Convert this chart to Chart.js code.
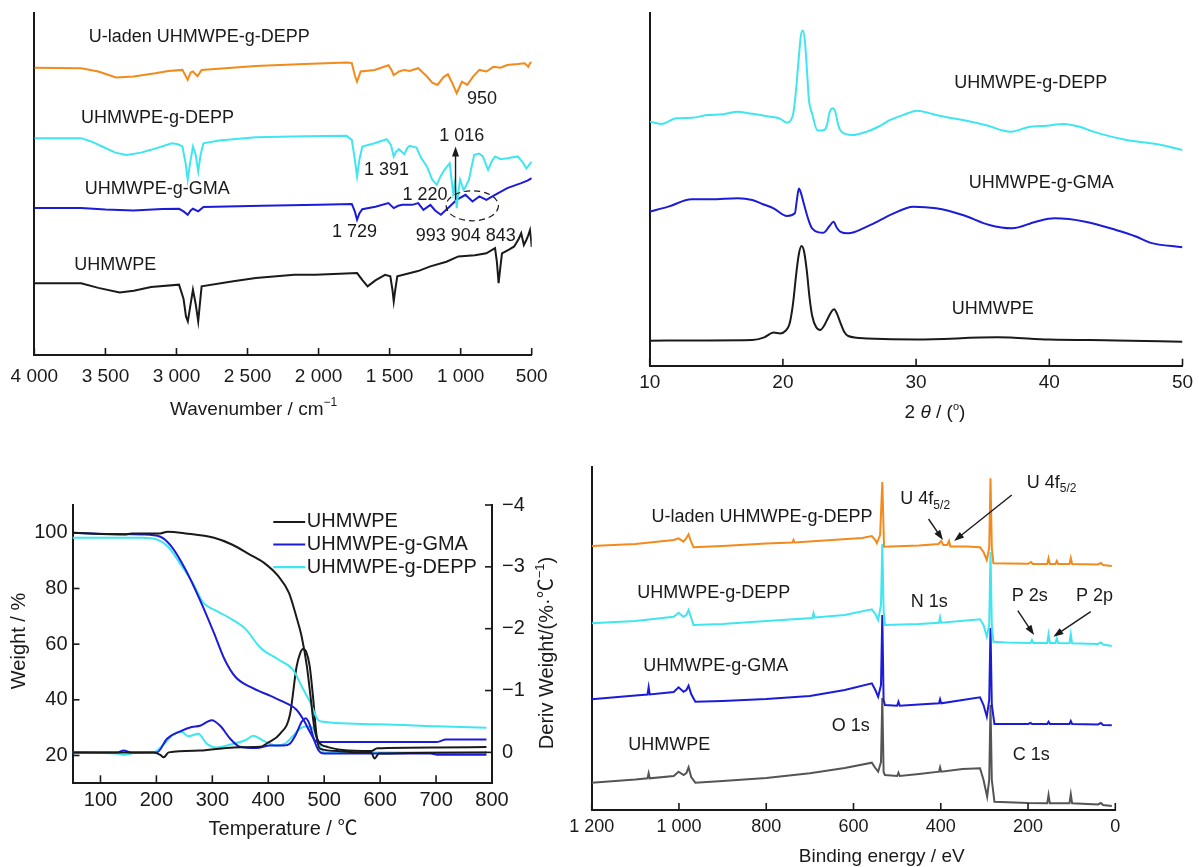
<!DOCTYPE html>
<html>
<head>
<meta charset="utf-8">
<script src="https://cdn.jsdelivr.net/npm/chart.js@4.4.1/dist/chart.umd.min.js"></script>
<style>
  body { margin: 0; background: #fff; }
  canvas { position: absolute; left: 0; top: 0; }
</style>
</head>
<body>
<canvas id="ftir" width="1199" height="867"></canvas>
<canvas id="xrd" width="1199" height="867"></canvas>
<canvas id="tga" width="1199" height="867"></canvas>
<canvas id="xps" width="1199" height="867"></canvas>
<script>
// ---- FTIR (wavenumber, relative transmittance, offset stacked) ----
const ftirTicks = [4000, 3500, 3000, 2500, 2000, 1500, 1000, 500];
const ftirULaden = [[4000,308],[3671,307.5],[3550,304],[3425,297.5],[3302,298.6],[3150,302],[3056,304.6],[2958,305.7],[2921,295],[2900,303],[2884,304],[2852,299],[2823,305.7],[2442,310],[2100,312],[1800,313.6],[1766,313],[1745,300],[1729,293],[1704,304],[1606,305.7],[1508,310.7],[1485,305],[1471,300],[1434,304],[1397,305.7],[1360,304.6],[1299,307.5],[1237,298.6],[1200,292],[1163,289.6],[1120,298],[1090,301],[1060,292],[1028,280.7],[991,293],[954,289.6],[910,299],[868,305.7],[819,304],[770,309],[720,308],[672,311],[600,312],[549,312.9],[524,309],[512,313],[500,314]];
const ftirDEPP = [[4000,232.5],[3671,232.5],[3600,229],[3523,223.6],[3430,217],[3351,214.6],[3250,217],[3179,220],[3032,227],[2990,226],[2958,223.6],[2935,205],[2921,187.9],[2905,205],[2884,223.6],[2865,215],[2847,196.8],[2830,215],[2810,227],[2700,230],[2442,233.6],[2100,234.5],[1803,235],[1766,230.7],[1745,210],[1729,191.4],[1712,210],[1692,223.6],[1606,227],[1520,231.4],[1490,225],[1471,212.9],[1455,218],[1434,220.7],[1397,215.4],[1375,222],[1360,224.3],[1311,222.5],[1280,212],[1237,202],[1200,188],[1168,182.5],[1140,192],[1114,198.6],[1077,205.7],[1053,173.6],[1040,185],[1028,157.5],[1016,175],[1004,187.9],[979,177],[960,182],[942,187.9],[905,214.6],[870,216],[844,212.9],[807,198.6],[780,208],[758,212.9],[720,210],[672,211],[598,212.9],[560,206],[537,200],[500,207.5]];
const ftirGMA = [[4000,157.5],[3671,157.5],[3500,156],[3302,155],[3100,156.5],[2982,156.8],[2950,154],[2921,150.4],[2900,155],[2884,156.8],[2847,154],[2810,158.6],[2400,160],[2000,161],[1766,162],[1745,154],[1729,145],[1712,152],[1692,156.4],[1600,159],[1508,162.9],[1471,157.5],[1440,160],[1410,161],[1340,161],[1299,162.9],[1262,155.7],[1213,161],[1180,155],[1139,150.4],[1100,156],[1077,159.3],[1028,166.4],[966,171.8],[917,164.6],[868,170],[819,166.4],[758,171.8],[672,179],[574,184.3],[530,187],[500,189.6]];
const ftirPE = [[4000,77],[3671,77],[3550,72],[3400,67],[3300,69],[3179,72.9],[2982,75.4],[2950,60],[2933,41.4],[2920,36],[2900,55],[2884,70],[2865,55],[2847,36],[2835,55],[2823,73.6],[2600,79],[2442,82.5],[2171,86],[2024,86],[1850,87],[1729,87.9],[1690,80],[1655,73.6],[1600,80],[1532,86],[1495,84.3],[1480,70],[1471,57.5],[1460,70],[1446,84.3],[1300,90],[1213,95],[1100,100],[1016,105.7],[900,107],[819,109],[758,114.6],[745,100],[733,77],[720,95],[709,109],[660,113],[623,116.4],[590,125],[574,130.7],[555,118],[537,123.6],[525,128],[512,134],[505,125],[500,116]];

// ---- XRD (2 theta, intensity offset stacked) ----
const xrdTicks = [10, 20, 30, 40, 50];
const xrdDEPP = [[10,279.6],[10.86,277],[12,283.4],[13.2,284],[14.3,287.2],[15.5,288],[16.6,291],[17.5,289],[18.3,287.2],[19.2,285],[19.75,283.4],[20.27,278.5],[20.75,287],[20.95,310],[21.15,345],[21.35,378],[21.5,384],[21.65,372],[21.8,340],[21.95,305],[22.19,289],[22.6,269.3],[23.1,270],[23.3,275],[23.5,290],[23.75,295],[23.95,290],[24.15,276],[24.4,268],[25.2,264.3],[26.3,268.1],[27.2,274],[28.06,281.5],[29,287],[30.07,292.2],[31.5,287.2],[32.5,284],[33.5,281.5],[35.2,275.8],[37.1,268.1],[38.4,273.1],[39.8,275],[41.1,276.9],[42.2,274],[43.3,268.1],[44.5,263],[45.8,258.6],[47,256],[48.4,252.9],[50,247.1]];
const xrdGMA = [[10,176.5],[11.4,182.2],[13.15,190.6],[14.6,190.6],[16.6,191.8],[17.7,189.8],[18.5,185],[19.3,180.3],[20.3,171.5],[20.9,174.6],[21.05,190],[21.2,203],[21.35,198],[21.6,184],[21.9,168],[22.19,157.4],[23.05,152.4],[23.5,160],[23.8,165],[24.05,158],[24.3,153.6],[24.9,151.6],[26.3,159.3],[27.2,166],[28.06,172.7],[29.8,182.2],[31.5,180.3],[33.5,172.7],[35.5,161.2],[37.2,157.4],[39,165],[40.4,168.8],[42.7,165],[45,155.5],[46.5,148],[47.56,141],[50,135.6]];
const xrdPE = [[10,28.6],[14,29],[17.7,29.4],[18.6,32.5],[19.3,38],[19.8,37],[20.2,40],[20.5,48],[20.75,70],[21.0,105],[21.2,128],[21.4,137],[21.6,130],[21.8,108],[22.0,78],[22.2,57],[22.5,44],[22.8,41],[23.1,46],[23.4,55],[23.7,63],[23.85,64.6],[24.05,60],[24.3,50],[24.6,39],[24.9,34],[26.3,31.3],[30,30],[36.1,32.5],[40,30],[45,29],[50,27.5]];

// ---- TGA / DTG (temperature, weight % / deriv weight) ----
const tgaTicks = [100, 200, 300, 400, 500, 600, 700, 800];
const weightTicks = [20, 40, 60, 80, 100];
const derivTicks = [-4, -3, -2, -1, 0];
const tgaPE = [[50,100],[143,99.4],[156,99.8],[207,99.8],[220,100.4],[252,99.8],[303,98.2],[335,95.8],[367,92.2],[392.5,89.2],[418,84.4],[437,78.4],[450,70],[459.5,62.9],[469,52.1],[475.5,41.3],[482,30.5],[489.5,25.1],[507,23],[533,22],[584,21.6],[595,22.6],[700,22.9],[790,23]];
const tgaGMA = [[50,100],[111.5,99.6],[175,99.4],[207,98.6],[226.4,95.2],[252,86.8],[277.6,76],[303,64],[322,54.5],[341.4,48.2],[367,44.7],[405,41.3],[430.8,38.9],[450,36.5],[462.7,32.9],[475.5,28.1],[485,25.1],[494.6,24.8],[700,24.8],[718,25.7],[790,25.7]];
const tgaDEPP = [[50,98.2],[175,98.2],[201,97.6],[220,95.2],[245.6,88],[265,82],[284,74.8],[303,72.4],[335,68.9],[360,65.3],[386,58.7],[418,54.5],[443.6,50.9],[462.7,43.7],[475.5,38.9],[488,33],[494.6,32.2],[600,31.2],[700,30.5],[790,30]];
const dtgPE = [[50,0],[195,0],[207,0.04],[213,0.08],[222,0],[278,-0.03],[338,-0.08],[385,-0.09],[400,-0.16],[421,-0.3],[439,-0.62],[450.5,-1.38],[457,-1.6],[462,-1.67],[468,-1.62],[474,-1.4],[480,-0.9],[486,-0.3],[492,-0.06],[527,-0.02],[559,0],[584,0],[590,0.1],[598,0.02],[790,0]];
const dtgGMA = [[50,0],[130,0],[141.6,-0.03],[155,0],[201,0],[219,-0.22],[242.6,-0.34],[263,-0.41],[278,-0.43],[299,-0.52],[314,-0.43],[332,-0.22],[349.5,-0.09],[379,-0.07],[403,-0.11],[427,-0.11],[438.6,-0.14],[450,-0.3],[460,-0.5],[467,-0.55],[474,-0.45],[482,-0.2],[490,-0.03],[500,0.02],[690,0.02],[705,0.04],[790,0.04]];
const dtgDEPP = [[50,0],[130,0.02],[141.6,0.04],[160,0.01],[195,0],[213,-0.13],[231,-0.3],[245.5,-0.33],[257,-0.26],[275,-0.3],[290,-0.14],[308,-0.08],[337.6,-0.14],[360,-0.2],[373,-0.27],[391,-0.19],[415,-0.11],[430,-0.14],[444.5,-0.27],[456,-0.38],[467,-0.42],[479,-0.4],[490,-0.15],[500,0],[790,0]];

// ---- XPS (binding energy, counts offset stacked) ----
const xpsTicks = [1200, 1000, 800, 600, 400, 200, 0];
const xpsULaden = [[1200,264],[1100,266],[1012,270],[1001,271.7],[989.5,268.3],[983,272],[978,275.7],[972,268],[966.6,262.7],[900,264],[800,266.5],[740,267.5],[737.5,270],[735,267.5],[650,270],[580,272],[558,274],[550,270],[546.5,266.7],[539,275],[534,328],[530,263.3],[450,264.5],[405,266],[399,269],[397.7,269],[394,265],[385,265],[381,269],[378,263.5],[340,263.5],[310,262.7],[302,258],[294.5,250],[289,262],[286,331.7],[283,262],[279.4,246.7],[200,246.2],[193,248],[189,246],[156,246],[153,251.7],[150,246],[137,246],[134,249],[131,246],[105,246],[102,252],[99,246],[40,245.5],[33,247],[28,245],[8,244]];
const xpsDEPP = [[1200,186.7],[1100,189],[1012,193.3],[1001,197.3],[989.5,193.3],[983,195],[978,200],[972,192],[966.6,185],[900,186],[800,189],[694,192],[691.6,196.7],[689,192.5],[620,195],[558,200.7],[550,196],[543.5,190],[537,205],[534,266],[531,200],[528,185],[450,186],[404,187.3],[401.6,192.7],[399,187.3],[310,190.7],[302,185],[294.5,173.3],[289,185],[286,258],[283,185],[279.4,168.3],[250,167.5],[194,167],[191,170],[188,167],[156,167],[153,175.7],[150,167],[137,167],[134,171.7],[131,167],[105,166.7],[102,175.7],[99,166.7],[40,166],[33,167.5],[28,165.5],[8,164]];
const xpsGMA = [[1200,110.7],[1100,114.5],[1072,115.5],[1069.5,122.7],[1067,115.5],[1012,118],[1001,122.7],[989.5,118.3],[983,120],[978,124.3],[972,116],[962.5,108.3],[900,109],[800,111],[700,114],[620,120],[558,126.7],[550,120],[543.5,113.3],[537,125],[534,195],[531,110],[528,105],[500,104.3],[497,108.3],[494,104.3],[450,105.5],[404,106.7],[401.6,110.7],[399,106.7],[310,112.7],[302,105],[294.5,93.3],[289,110],[286,182],[283,105],[277,86],[200,86],[194,87],[191,86],[156,86],[153,88.3],[150,86],[105,86],[102,89],[99,86],[40,85.5],[33,87],[28,85],[8,84.7]];
const xpsPE = [[1200,27.3],[1100,30.5],[1072,31.7],[1069.5,36.7],[1067,31.7],[1012,34],[1001,38.3],[989.5,35],[983,37],[978,42.7],[972,33],[962.5,27.3],[900,29],[800,32],[700,36.7],[620,42],[558,47.3],[550,42],[543.5,38.3],[537,48],[534,112],[531,38],[528,35],[500,34],[497,37.3],[494,34],[450,36],[404,38.3],[401.6,42.7],[399,38.3],[350,41],[310,41.7],[302,30],[293.7,13.3],[289,30],[286,105],[283,30],[277,8.3],[200,7],[156,6.7],[153,15],[150,6.7],[105,6.7],[102,15.7],[99,6.7],[40,5.5],[33,7],[28,5],[8,4]];

const INK = '#1a1a1a';
const ORANGE = '#f28a1c', CYAN = '#3fe6f0', BLUE = '#1c1cd8', GREY = '#555555';
const FF = '"Liberation Sans", Arial, "Noto Sans CJK SC", sans-serif';
Chart.defaults.font.family = FF;
Chart.defaults.color = INK;

function fmt(v) {
  if (v < 0) return '\u2212' + Math.abs(v);
  if (v >= 1000) return Math.floor(v / 1000) + ' ' + String(v % 1000).padStart(3, '0');
  return String(v);
}
function pts(arr) { return arr.map(p => ({x: p[0], y: p[1]})); }
function line(arr, color, axis, smooth) {
  return {data: pts(arr), borderColor: color, borderWidth: 2, pointRadius: 0, fill: false,
    tension: smooth ? 0.4 : 0, cubicInterpolationMode: smooth ? 'monotone' : 'default', yAxisID: axis || 'y'};
}
function axis(pos, min, max, rev, vals, size, pad, fit) {
  const horiz = pos === 'bottom';
  return {
    type: 'linear', position: pos, min, max, reverse: rev,
    afterBuildTicks: s => { s.ticks = (vals || []).map(v => ({value: v})); },
    afterFit: s => { if (horiz) s.height = fit; else s.width = fit; },
    grid: {display: false, drawTicks: false},
    border: {display: true, color: INK, width: 2},
    ticks: {display: !!vals, color: INK, font: {size}, padding: pad, maxRotation: 0, autoSkip: false, callback: fmt}
  };
}

// inward tick marks drawn at the scale's own tick positions
function inTicks(len) {
  return {id: 'inTicks', afterDraw(chart) {
    const ctx = chart.ctx, a = chart.chartArea;
    ctx.save(); ctx.strokeStyle = INK; ctx.lineWidth = 1.6;
    Object.keys(len).forEach(id => {
      const s = chart.scales[id];
      s.ticks.forEach(t => {
        const p = s.getPixelForValue(t.value);
        ctx.beginPath();
        if (s.isHorizontal()) { ctx.moveTo(p, a.bottom); ctx.lineTo(p, a.bottom - len[id]); }
        else if (s.position === 'left') { ctx.moveTo(a.left, p); ctx.lineTo(a.left + len[id], p); }
        else { ctx.moveTo(a.right, p); ctx.lineTo(a.right - len[id], p); }
        ctx.stroke();
      });
    });
    ctx.restore();
  }};
}

// labels, arrows, titles
function notes(items) {
  return {id: 'notes', afterDraw(chart) {
    const ctx = chart.ctx;
    const P = (x, y, ax) => [chart.scales.x.getPixelForValue(x), chart.scales[ax || 'y'].getPixelForValue(y)];
    items.forEach(it => {
      ctx.save();
      ctx.fillStyle = it.color || INK; ctx.strokeStyle = it.color || INK;
      if (it.arrow) {
        const [x1, y1] = P(it.arrow[0], it.arrow[1]), [x2, y2] = P(it.arrow[2], it.arrow[3]);
        const a = Math.atan2(y2 - y1, x2 - x1), L = 10, W = 3.5;
        ctx.lineWidth = 1.4;
        ctx.beginPath(); ctx.moveTo(x1, y1); ctx.lineTo(x2 - 6 * Math.cos(a), y2 - 6 * Math.sin(a)); ctx.stroke();
        ctx.beginPath(); ctx.moveTo(x2, y2);
        ctx.lineTo(x2 - L * Math.cos(a) + W * Math.sin(a), y2 - L * Math.sin(a) - W * Math.cos(a));
        ctx.lineTo(x2 - L * Math.cos(a) - W * Math.sin(a), y2 - L * Math.sin(a) + W * Math.cos(a));
        ctx.closePath(); ctx.fill();
      } else if (it.ellipse) {
        const e = it.ellipse, [cx, cy] = P(e[0], e[1]), [ex, ey] = P(e[0] + e[2], e[1] + e[3]);
        ctx.setLineDash([6, 4]); ctx.lineWidth = 1.2;
        ctx.beginPath(); ctx.ellipse(cx, cy, Math.abs(ex - cx), Math.abs(ey - cy), 0, 0, Math.PI * 2); ctx.stroke();
      } else if (it.seg) {
        const [x1, y1] = P(it.seg[0], it.seg[1]), [x2, y2] = P(it.seg[2], it.seg[3]);
        ctx.lineWidth = 2.2;
        ctx.beginPath(); ctx.moveTo(x1, y1); ctx.lineTo(x2, y2); ctx.stroke();
      } else {
        const [x, y] = it.px ? [it.x, it.y] : P(it.x, it.y, it.ax);
        const size = it.size || 18, parts = it.parts || [{s: it.text}];
        const fontOf = p => (p.italic ? 'italic ' : '') + (p.size || size) + 'px ' + FF;
        ctx.translate(x, y);
        if (it.rot) ctx.rotate(it.rot);
        let w = 0;
        parts.forEach(p => { ctx.font = fontOf(p); w += ctx.measureText(p.s).width; });
        let cx = it.align === 'center' ? -w / 2 : 0;
        ctx.textBaseline = 'middle'; ctx.textAlign = 'left';
        parts.forEach(p => { ctx.font = fontOf(p); ctx.fillText(p.s, cx, p.dy || 0); cx += ctx.measureText(p.s).width; });
      }
      ctx.restore();
    });
  }};
}

function make(id, datasets, scales, padding, plugins) {
  return new Chart(document.getElementById(id), {
    type: 'line',
    data: {datasets},
    options: {
      responsive: false, animation: false, events: [],
      layout: {padding},
      plugins: {legend: {display: false}, tooltip: {enabled: false}},
      scales
    },
    plugins
  });
}

// FTIR
make('ftir',
  [line(ftirULaden, ORANGE), line(ftirDEPP, CYAN), line(ftirGMA, BLUE), line(ftirPE, INK)],
  {x: axis('bottom', 500, 4000, true, ftirTicks, 19, 10.6, 40), y: axis('left', 0, 366.4, false, null, 18, 0, 0)},
  {left: 23.5, right: 667.3, top: 13.3, bottom: 472},
  [inTicks({x: 7}), notes([
    {text: 'U-laden UHMWPE-g-DEPP', x: 3617, y: 341.4},
    {text: 'UHMWPE-g-DEPP', x: 3671, y: 254},
    {text: 'UHMWPE-g-GMA', x: 3646, y: 178.2},
    {text: 'UHMWPE', x: 3720, y: 96.8},
    {text: '950', x: 955, y: 274.6},
    {text: '1 016', x: 1151, y: 234.3},
    {text: '1 391', x: 1680, y: 197.9},
    {text: '1 220', x: 1409, y: 171.8},
    {text: '1 729', x: 1906, y: 131.8},
    {text: '993 904 843', x: 1316, y: 127.1},
    {arrow: [1036, 166.4, 1036, 223.6]},
    {ellipse: [918, 160, 184, 16.1]},
    {px: true, x: 253.6, y: 410, size: 19, align: 'center', parts: [{s: 'Wavenumber / cm'}, {s: '\u22121', size: 12, dy: -7}]}
  ])]);

// XRD
make('xrd',
  [line(xrdDEPP, CYAN, 'y', true), line(xrdGMA, BLUE, 'y', true), line(xrdPE, INK, 'y', true)],
  {x: axis('bottom', 10, 50, false, xrdTicks, 19, 5.9, 40), y: axis('left', 0, 403.7, false, null, 18, 0, 0)},
  {left: 649.7, right: 16.5, top: 13.3, bottom: 461.3},
  [inTicks({x: 7}), notes([
    {text: 'UHMWPE-g-DEPP', x: 38.6, y: 324.3, align: 'center'},
    {text: 'UHMWPE-g-GMA', x: 39.4, y: 208.9, align: 'center'},
    {text: 'UHMWPE', x: 35.75, y: 64.6, align: 'center'},
    {px: true, x: 935, y: 413, size: 19, align: 'center', parts: [{s: '2 '}, {s: '\u03b8', italic: true}, {s: ' / ('}, {s: 'o', size: 11, dy: -6}, {s: ')'}]}
  ])]);

// TGA / DTG
make('tga',
  [line(tgaPE, INK, 'y', true), line(tgaGMA, BLUE, 'y', true), line(tgaDEPP, CYAN, 'y', true),
   line(dtgPE, INK, 'y2', true), line(dtgGMA, BLUE, 'y2', true), line(dtgDEPP, CYAN, 'y2', true)],
  {x: axis('bottom', 50, 800, false, tgaTicks, 20, 4.7, 30),
   y: axis('left', 10, 110, false, weightTicks, 20, 5, 60),
   y2: axis('right', -4, 0.5, true, derivTicks, 20, 10, 50)},
  {left: 12.5, right: 657, top: 505, bottom: 53.7},
  [inTicks({x: 8, y: 7, y2: 7}), notes([
    {seg: [409, 103.9, 466, 103.9], color: INK},
    {seg: [409, 95.8, 466, 95.8], color: BLUE},
    {seg: [409, 87.7, 466, 87.7], color: CYAN},
    {text: 'UHMWPE', x: 469, y: 103.9, size: 20},
    {text: 'UHMWPE-g-GMA', x: 469, y: 95.8, size: 20},
    {text: 'UHMWPE-g-DEPP', x: 469, y: 87.7, size: 20},
    {px: true, x: 283, y: 829, size: 20, align: 'center', text: 'Temperature / \u2103'},
    {px: true, x: 19.5, y: 641, size: 20, align: 'center', rot: -Math.PI / 2, text: 'Weight / %'},
    {px: true, x: 547, y: 653, size: 20, align: 'center', rot: -Math.PI / 2,
     parts: [{s: 'Deriv Weight/(%\u00b7\u2103'}, {s: '\u22121', size: 13, dy: -7}, {s: ')'}]}
  ])]);

// XPS
make('xps',
  [line(xpsULaden, ORANGE), line(xpsDEPP, CYAN), line(xpsGMA, BLUE), line(xpsPE, GREY)],
  {x: axis('bottom', 0, 1200, true, xpsTicks, 18, 5.9, 30), y: axis('left', 0, 343.3, false, null, 18, 0, 0)},
  {left: 591.7, right: 83.7, top: 466.7, bottom: 27},
  [inTicks({x: 7}), notes([
    {text: 'U-laden UHMWPE-g-DEPP', x: 1063, y: 293.3},
    {text: 'UHMWPE-g-DEPP', x: 1095.8, y: 216.7},
    {text: 'UHMWPE-g-GMA', x: 1082, y: 144},
    {text: 'UHMWPE', x: 1116, y: 65},
    {text: 'O 1s', x: 649.6, y: 84},
    {text: 'N 1s', x: 468.6, y: 207.7},
    {text: 'C 1s', x: 235, y: 55},
    {text: 'P 2s', x: 237.3, y: 214.3},
    {text: 'P 2p', x: 90, y: 214.3},
    {x: 492.6, y: 310.7, parts: [{s: 'U 4f'}, {s: '5/2', size: 12, dy: 6}]},
    {x: 203, y: 327.3, parts: [{s: 'U 4f'}, {s: '5/2', size: 12, dy: 6}]},
    {arrow: [428, 291, 395, 270]},
    {arrow: [237.3, 315, 369.4, 269]},
    {arrow: [223.5, 199.3, 186.2, 175]},
    {arrow: [56.3, 198.3, 142, 173.3]},
    {px: true, x: 881.7, y: 856.7, size: 19, align: 'center', text: 'Binding energy / eV'}
  ])]);
</script>
</body>
</html>
